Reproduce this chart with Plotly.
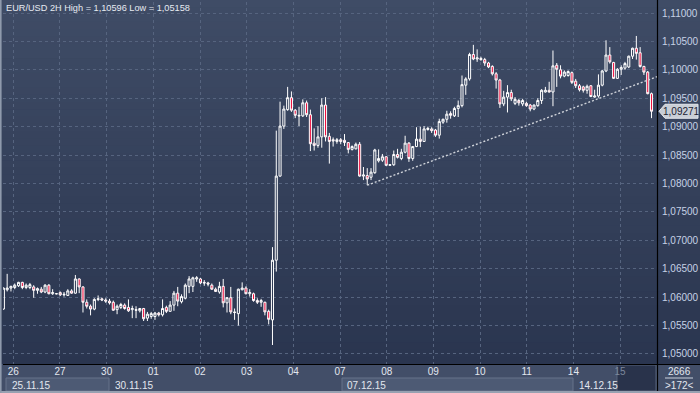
import plotly.graph_objects as go

# ---------------- data (EUR/USD 2H bars) ----------------
opens = [
    1.0579, 1.0613, 1.0616, 1.0617, 1.0620, 1.0626, 1.0617, 1.0617, 1.0618, 1.0612,
    1.0614, 1.0609, 1.0621, 1.0606, 1.0606, 1.0608, 1.0604, 1.0603, 1.0611, 1.0607,
    1.0632, 1.0618, 1.0591, 1.0584, 1.0579, 1.0596, 1.0597, 1.0595, 1.0593, 1.0591,
    1.0578, 1.0582, 1.0586, 1.0582, 1.0578, 1.0578, 1.0576, 1.0580, 1.0563, 1.0566,
    1.0566, 1.0572, 1.0569, 1.0582, 1.0575, 1.0586, 1.0607, 1.0592, 1.0598, 1.0619,
    1.0619, 1.0632, 1.0632, 1.0626, 1.0625, 1.0621, 1.0614, 1.0609, 1.0619, 1.0590,
    1.0599, 1.0574, 1.0571, 1.0613, 1.0616, 1.0606, 1.0606, 1.0594, 1.0591, 1.0591,
    1.0575, 1.0560, 1.0665, 1.0813, 1.0901, 1.0930, 1.0951, 1.0929, 1.0920, 1.0919,
    1.0942, 1.0921, 1.0871, 1.0867, 1.0882, 1.0938, 1.0883, 1.0877, 1.0874, 1.0877,
    1.0876, 1.0872, 1.0860, 1.0861, 1.0869, 1.0813, 1.0814, 1.0811, 1.0819, 1.0840,
    1.0841, 1.0847, 1.0832, 1.0833, 1.0851, 1.0844, 1.0855, 1.0871, 1.0844, 1.0865,
    1.0878, 1.0874, 1.0895, 1.0896, 1.0894, 1.0885, 1.0908, 1.0913, 1.0923, 1.0919,
    1.0932, 1.0937, 1.0973, 1.0984, 1.1027, 1.1019, 1.1020, 1.1018, 1.1012, 1.1006,
    1.0993, 1.0982, 1.0940, 1.0952, 1.0960, 1.0941, 1.0946, 1.0940, 1.0941, 1.0938,
    1.0931, 1.0937, 1.0946, 1.0961, 1.0964, 1.0961, 1.1008, 1.1000, 1.0989, 1.0990,
    1.0995, 1.0980, 1.0972, 1.0970, 1.0964, 1.0972, 1.0952, 1.0954, 1.0973, 1.0998,
    1.1026, 1.1013, 1.0985, 1.1001, 1.1003, 1.1005, 1.1024, 1.1038, 1.1030, 1.1006,
    1.0996, 1.0958,
]
highs = [
    1.0617, 1.0641, 1.0620, 1.0624, 1.0627, 1.0627, 1.0624, 1.0625, 1.0621, 1.0617,
    1.0618, 1.0623, 1.0623, 1.0614, 1.0607, 1.0610, 1.0609, 1.0614, 1.0614, 1.0639,
    1.0633, 1.0619, 1.0596, 1.0587, 1.0598, 1.0603, 1.0599, 1.0598, 1.0597, 1.0594,
    1.0587, 1.0590, 1.0589, 1.0596, 1.0585, 1.0584, 1.0581, 1.0581, 1.0574, 1.0574,
    1.0574, 1.0574, 1.0596, 1.0585, 1.0593, 1.0611, 1.0618, 1.0605, 1.0624, 1.0637,
    1.0636, 1.0637, 1.0634, 1.0630, 1.0627, 1.0624, 1.0617, 1.0627, 1.0632, 1.0600,
    1.0618, 1.0580, 1.0615, 1.0626, 1.0619, 1.0614, 1.0608, 1.0598, 1.0597, 1.0592,
    1.0578, 1.0688, 1.0893, 1.0944, 1.0937, 1.0970, 1.0962, 1.0931, 1.0935, 1.0948,
    1.0946, 1.0930, 1.0897, 1.0901, 1.0950, 1.0952, 1.0889, 1.0881, 1.0880, 1.0880,
    1.0887, 1.0873, 1.0867, 1.0872, 1.0873, 1.0829, 1.0827, 1.0827, 1.0861, 1.0860,
    1.0852, 1.0848, 1.0834, 1.0858, 1.0861, 1.0861, 1.0884, 1.0873, 1.0866, 1.0899,
    1.0900, 1.0901, 1.0900, 1.0899, 1.0896, 1.0914, 1.0914, 1.0928, 1.0927, 1.0935,
    1.0946, 1.0990, 1.0987, 1.1030, 1.1044, 1.1036, 1.1023, 1.1021, 1.1014, 1.1008,
    1.0996, 1.0984, 1.0963, 1.0973, 1.0965, 1.0952, 1.0949, 1.0949, 1.0944, 1.0940,
    1.0939, 1.0950, 1.0966, 1.0970, 1.0979, 1.1034, 1.1012, 1.1008, 1.0999, 1.0999,
    1.0997, 1.0984, 1.0975, 1.0972, 1.0974, 1.0973, 1.0965, 1.0992, 1.1000, 1.1052,
    1.1040, 1.1014, 1.1003, 1.1008, 1.1014, 1.1025, 1.1039, 1.10596, 1.1040, 1.1007,
    1.0998, 1.0960,
]
lows = [
    1.0578, 1.0610, 1.0610, 1.0614, 1.0618, 1.0614, 1.0614, 1.0614, 1.0599, 1.0606,
    1.0607, 1.0607, 1.0605, 1.0604, 1.0605, 1.0602, 1.0601, 1.0602, 1.0606, 1.0606,
    1.0607, 1.0573, 1.0580, 1.0568, 1.0577, 1.0593, 1.0593, 1.0590, 1.0587, 1.0576,
    1.0570, 1.0579, 1.0578, 1.0574, 1.0563, 1.0563, 1.0573, 1.0558, 1.0558, 1.0562,
    1.0560, 1.0566, 1.0566, 1.0572, 1.0575, 1.0576, 1.0584, 1.0589, 1.0596, 1.0607,
    1.0609, 1.0627, 1.0623, 1.0620, 1.0619, 1.0613, 1.0609, 1.0606, 1.0582, 1.0573,
    1.0570, 1.0560, 1.0550, 1.0612, 1.0605, 1.0601, 1.0592, 1.0588, 1.0583, 1.0568,
    1.0552, 1.05158, 1.0645, 1.0812, 1.0896, 1.0928, 1.0926, 1.0915, 1.0901, 1.0917,
    1.0917, 1.0857, 1.0858, 1.0863, 1.0863, 1.0874, 1.0835, 1.0865, 1.0870, 1.0869,
    1.0866, 1.0853, 1.0858, 1.0860, 1.0812, 1.0806, 1.0797, 1.0806, 1.0817, 1.0837,
    1.0838, 1.0831, 1.0831, 1.0831, 1.0844, 1.0841, 1.0853, 1.0838, 1.0840, 1.0864,
    1.0864, 1.0873, 1.0893, 1.0889, 1.0882, 1.0879, 1.0905, 1.0907, 1.0914, 1.0917,
    1.0917, 1.0934, 1.0956, 1.0981, 1.1017, 1.1014, 1.1016, 1.1007, 1.1003, 1.0990,
    1.0967, 1.0933, 1.0936, 1.0925, 1.0945, 1.0938, 1.0937, 1.0936, 1.0935, 1.0927,
    1.0929, 1.0935, 1.0940, 1.0960, 1.0960, 1.0936, 1.0970, 1.0985, 1.0987, 1.0988,
    1.0975, 1.0968, 1.0962, 1.0960, 1.0958, 1.0952, 1.0951, 1.0951, 1.0971, 1.0996,
    1.1011, 1.0984, 1.0984, 1.0991, 1.1000, 1.1003, 1.1019, 1.1018, 1.1004, 1.0991,
    1.0957, 1.0915,
]
closes = [
    1.0616, 1.0616, 1.0619, 1.0621, 1.0626, 1.0617, 1.0621, 1.0622, 1.0612, 1.0615,
    1.0609, 1.0621, 1.0606, 1.0608, 1.0606, 1.0604, 1.0605, 1.0611, 1.0607, 1.0632,
    1.0618, 1.0591, 1.0584, 1.0579, 1.0596, 1.0597, 1.0595, 1.0593, 1.0590, 1.0577,
    1.0584, 1.0587, 1.0580, 1.0576, 1.0580, 1.0577, 1.0580, 1.0562, 1.0570, 1.0571,
    1.0572, 1.0569, 1.0580, 1.0575, 1.0586, 1.0607, 1.0593, 1.0601, 1.0621, 1.0632,
    1.0634, 1.0634, 1.0625, 1.0625, 1.0623, 1.0614, 1.0610, 1.0619, 1.0590, 1.0599,
    1.0574, 1.0573, 1.0614, 1.0616, 1.0606, 1.0608, 1.0594, 1.0591, 1.0594, 1.0574,
    1.0561, 1.0665, 1.0813, 1.0901, 1.0931, 1.0951, 1.0929, 1.0920, 1.0919, 1.0942,
    1.0921, 1.0870, 1.0867, 1.0882, 1.0938, 1.0882, 1.0874, 1.0875, 1.0877, 1.0874,
    1.0872, 1.0860, 1.0865, 1.0869, 1.0813, 1.0815, 1.0808, 1.0820, 1.0859, 1.0844,
    1.0847, 1.0832, 1.0833, 1.0851, 1.0846, 1.0855, 1.0871, 1.0844, 1.0865, 1.0878,
    1.0874, 1.0896, 1.0897, 1.0893, 1.0885, 1.0909, 1.0913, 1.0922, 1.0920, 1.0932,
    1.0937, 1.0974, 1.0984, 1.1027, 1.1019, 1.1021, 1.1018, 1.1012, 1.1005, 1.0993,
    1.0982, 1.0940, 1.0952, 1.0960, 1.0949, 1.0948, 1.0942, 1.0946, 1.0937, 1.0931,
    1.0938, 1.0946, 1.0964, 1.0964, 1.0961, 1.1007, 1.1001, 1.0989, 1.0996, 1.0997,
    1.0978, 1.0972, 1.0965, 1.0964, 1.0971, 1.0953, 1.0954, 1.0973, 1.0998, 1.1026,
    1.1014, 1.0985, 1.1001, 1.1004, 1.1011, 1.1024, 1.1038, 1.1029, 1.1006, 1.0996,
    1.0958, 1.09271,
]
bar_index = list(range(len(closes)))

day_labels = ["26", "27", "30", "01", "02", "03", "04", "07", "08", "09", "10", "11", "14", "15"]
week_labels = ["25.11.15", "30.11.15", "07.12.15", "14.12.15"]
price_ticks = [1.050, 1.055, 1.060, 1.065, 1.070, 1.075, 1.080,
               1.085, 1.090, 1.095, 1.100, 1.105, 1.110]
trend_x = [96, 172.5]
trend_y = [1.0797, 1.0988]
symbol_title = "EUR/USD 2H High = 1,10596 Low = 1,05158"
counter_top = "2666"
counter_bottom = ">172<"

# ---------------- geometry helpers (pixel layout of the terminal window) ----------------
W, H = 700, 393
PL, PR, PT, PB = 3, 657, 2, 364          # plot area in pixels
X_RANGE = [-0.1, 172.45]
Y_RANGE = [1.048236, 1.111936]
BARS_PER_DAY = 12.314
FIRST_DAY = 2.62


def px(x):
    return x / W


def py(y):
    return 1 - y / H


def fmt(v):
    return f"{v:.5f}".replace(".", ",")


def lerp(c0, c1, t):
    return "rgb({},{},{})".format(*[round(a + (b - a) * t) for a, b in zip(c0, c1)])


shapes = []
# background gradient of the chart + price panel
top_c, bot_c = (63, 76, 102), (42, 53, 79)
n = 50
for k in range(n):
    y0 = PB * k / n
    y1 = PB * (k + 1) / n + 0.6
    shapes.append(dict(type="rect", xref="paper", yref="paper", layer="below",
                       x0=0, x1=1, y0=py(y1), y1=py(y0),
                       fillcolor=lerp(top_c, bot_c, (k + 0.5) / n), line_width=0))
# bottom time strip
shapes.append(dict(type="rect", xref="paper", yref="paper", layer="below",
                   x0=0, x1=1, y0=0, y1=py(PB), fillcolor="#424e68", line_width=0))
# week boxes
for x0, x1 in [(6, 109), (342, 573)]:
    shapes.append(dict(type="rect", xref="paper", yref="paper", layer="below",
                       x0=px(x0), x1=px(x1), y0=py(391), y1=py(378),
                       fillcolor="#4d5a74", line=dict(color="#66728a", width=1)))
# current day dark box
shapes.append(dict(type="rect", xref="paper", yref="paper", layer="below",
                   x0=px(617), x1=px(656), y0=py(391), y1=py(365),
                   fillcolor="#29334b", line=dict(color="#56627a", width=1)))
# bottom light edge and left frame
shapes.append(dict(type="rect", xref="paper", yref="paper", layer="above",
                   x0=0, x1=1, y0=0, y1=py(391), fillcolor="#97a1b1", line_width=0))
shapes.append(dict(type="rect", xref="paper", yref="paper", layer="above",
                   x0=0, x1=px(1.6), y0=0, y1=1, fillcolor="#8f9aac", line_width=0))
# black separators
shapes.append(dict(type="line", xref="paper", yref="paper", layer="above",
                   x0=px(PL), x1=1, y0=py(PB + 0.5), y1=py(PB + 0.5),
                   line=dict(color="#000000", width=1.2)))
shapes.append(dict(type="line", xref="paper", yref="paper", layer="above",
                   x0=px(PR + 0.5), x1=px(PR + 0.5), y0=py(391), y1=1,
                   line=dict(color="#000000", width=1.2)))
# counter separator
shapes.append(dict(type="line", xref="paper", yref="paper", layer="above",
                   x0=px(665), x1=px(693), y0=py(378), y1=py(378),
                   line=dict(color="#c9d1dd", width=1)))

# last price tag (anchored on the last close)
last = closes[-1]
hh = 7 / 5683
shapes.append(dict(type="path", xref="paper", yref="y", layer="above",
                   path=(f"M {px(659)},{last} L {px(665)},{last + hh} L {px(698)},{last + hh} "
                         f"L {px(698)},{last - hh} L {px(665)},{last - hh} Z"),
                   fillcolor="#c9ced6", line=dict(color="#e4e7ec", width=1)))

FONT = "Liberation Sans, Arial, sans-serif"
annotations = [
    dict(text=symbol_title, xref="paper", yref="paper", x=px(4), y=py(8.5),
         xanchor="left", yanchor="middle", showarrow=False,
         font=dict(family=FONT, size=9.2, color="#e6eaf1")),
    dict(text=fmt(last), xref="paper", yref="y", x=px(681.5), y=last,
         xanchor="center", yanchor="middle", showarrow=False,
         font=dict(family=FONT, size=10, color="#1b2233")),
    dict(text=counter_top, xref="paper", yref="paper", x=px(679), y=py(371.5),
         xanchor="center", yanchor="middle", showarrow=False,
         font=dict(family=FONT, size=10, color="#e2e7ef")),
    dict(text=counter_bottom, xref="paper", yref="paper", x=px(679), y=py(385),
         xanchor="center", yanchor="middle", showarrow=False,
         font=dict(family=FONT, size=10, color="#e2e7ef")),
]
for lab, xpix in zip(week_labels, [10, 113, 345, 577]):
    annotations.append(dict(text=lab, xref="paper", yref="paper", x=px(xpix), y=py(385),
                            xanchor="left", yanchor="middle", showarrow=False,
                            font=dict(family=FONT, size=10, color="#e2e7ef")))

tickvals = [FIRST_DAY + BARS_PER_DAY * k for k in range(len(day_labels))]
ticktext = [d if k < len(day_labels) - 1 else f'<span style="color:#7d889c">{d}</span>'
            for k, d in enumerate(day_labels)]

fig = go.Figure()
fig.add_trace(go.Candlestick(
    x=bar_index, open=opens, high=highs, low=lows, close=closes,
    increasing=dict(line=dict(color="#ffffff", width=1), fillcolor="rgba(0,0,0,0)"),
    decreasing=dict(line=dict(color="#ffffff", width=1), fillcolor="#ee0f3e"),
    whiskerwidth=0, hoverinfo="skip", showlegend=False,
))
fig.add_trace(go.Scatter(
    x=trend_x, y=trend_y, mode="lines", hoverinfo="skip", showlegend=False,
    line=dict(color="#cfd3da", width=1.4, dash="2px,2px"),
))

grid = dict(showgrid=True, gridcolor="#56647f", gridwidth=1, griddash="3px,3px", zeroline=False)
fig.update_layout(
    width=W, height=H, margin=dict(l=0, r=0, t=0, b=0, autoexpand=False),
    paper_bgcolor="#2c3651", plot_bgcolor="rgba(0,0,0,0)",
    boxgap=0.22, showlegend=False,
    shapes=shapes, annotations=annotations,
    xaxis=dict(domain=[px(PL), px(PR)], range=X_RANGE, rangeslider=dict(visible=False),
               tickmode="array", tickvals=tickvals, ticktext=ticktext, ticks="",
               tickfont=dict(family=FONT, size=10, color="#e2e7ef"),
               showline=False, fixedrange=True, automargin=False, **grid),
    yaxis=dict(domain=[py(PB), py(PT)], range=Y_RANGE, side="right",
               tickmode="array", tickvals=price_ticks, ticktext=[fmt(v) for v in price_ticks],
               ticks="", ticklabelstandoff=4,
               tickfont=dict(family=FONT, size=10, color="#c6d2e6"),
               showline=False, fixedrange=True, automargin=False, **grid),
)

fig.write_html(
    "out.html",
    config={"displayModeBar": False, "staticPlot": True},
    post_script="document.body.style.margin='0px';document.body.style.overflow='hidden';",
)
